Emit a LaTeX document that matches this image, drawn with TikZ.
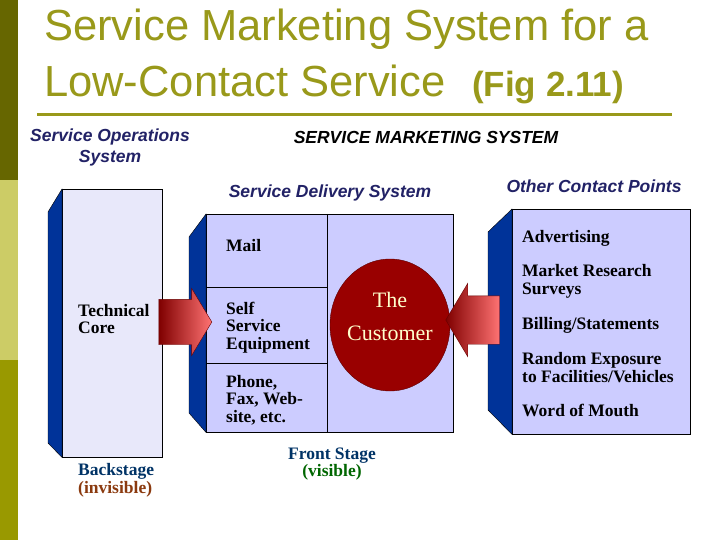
\documentclass[tikz,border=0pt]{standalone}
\usepackage{fontspec}
\setmainfont{Liberation Serif}
\setsansfont{Liberation Sans}
\usetikzlibrary{shapes.arrows,shapes.geometric}
\definecolor{olivetitle}{RGB}{153,153,26}
\definecolor{bardark}{RGB}{102,102,0}
\definecolor{barlight}{RGB}{204,204,102}
\definecolor{barmid}{RGB}{153,153,0}
\definecolor{sideblue}{RGB}{0,51,153}
\definecolor{coreface}{RGB}{232,232,250}
\definecolor{boxface}{RGB}{204,204,255}
\definecolor{headnavy}{RGB}{34,34,102}
\definecolor{stagenavy}{RGB}{0,51,102}
\definecolor{invisbrown}{RGB}{139,58,15}
\definecolor{visgreen}{RGB}{0,102,0}
\definecolor{custred}{RGB}{153,0,0}
\definecolor{custtext}{RGB}{255,255,204}

\begin{document}
\begin{tikzpicture}[x=1pt, y=-1pt,
	face/.style={draw, thin, rectangle, anchor=north west, inner sep=0},
	side/.style={draw, thin, fill=sideblue},
	heading/.style={font=\sffamily\bfseries\itshape\fontsize{17.5}{21}\selectfont, text=headnavy, inner sep=0, align=center},
	item/.style={font=\bfseries\fontsize{17.5}{17.5}\selectfont, anchor=west, inner sep=0, align=left},
	blockarrow/.style={single arrow, single arrow tip angle=118, inner xsep=0, draw=red!40!black, left color=red!50!black, right color=red!55!white}]
				\fill[white] (0,0) rectangle (720,540);
				\useasboundingbox (0,0) rectangle (720,540);
				\fill[bardark] (0,0) rectangle (18,180);
				\fill[barlight] (0,180) rectangle (18,360);
				\fill[barmid] (0,360) rectangle (18,540);
				
				\path (44,41) node[anchor=base west, inner sep=0, text=olivetitle, font=\sffamily\fontsize{43.5}{43.5}\selectfont] (title1){Service Marketing System for a}
				(44,97) node[anchor=base west, inner sep=0, text=olivetitle, font=\sffamily\fontsize{43.5}{43.5}\selectfont] (title2){Low-Contact Service}
				(472,97) node[anchor=base west, inner sep=0, text=olivetitle, font=\sffamily\bfseries\fontsize{35}{35}\selectfont] (fig){(Fig 2.11)};
				\draw[olivetitle, line width=3] (37,115) -- (672,115);
				
				\path (110,147.5) node[heading] (opsys){Service Operations\\System}
				(426,137) node[heading, text=black] (mksys){SERVICE MARKETING SYSTEM}
				(330,193) node[heading] (delsys){Service Delivery System}
				(594,186) node[heading] (other){Other Contact Points};
				
				\path (62,189) node[face, fill=coreface, minimum width=100, minimum height=268] (core){}
				(206,214) node[face, fill=boxface, minimum width=247, minimum height=218] (deliv){}
				(512,209) node[face, fill=boxface, minimum width=178, minimum height=225] (contact){};
				
				\draw[side] (core.north west) -- ++(-14,23) -- ++(0,231) -- (core.south west) -- cycle;
				\draw[side] (deliv.north west) -- ++(-17,23) -- ++(0,176) -- (deliv.south west) -- cycle;
				\draw[side] (contact.north west) -- ++(-24,23) -- ++(0,178) -- (contact.south west) -- cycle;
				\draw (327,214) -- (327,432)
				(206,287) -- (327,287)
				(206,363) -- (327,363);
				
				\path (390,325) node[ellipse, draw=custred!60!black, fill=custred, minimum width=120, minimum height=132, inner sep=0] (customer){}
				(390,316) node[align=center, inner sep=0, text=custtext, font=\fontsize{22}{33}\selectfont] (custlabel){The\\Customer};
				
				\path (78,319) node[item] (techcore){Technical\\Core}
				(78,480.5) node[item] (backstage){\textcolor{stagenavy}{Backstage}\\\textcolor{invisbrown}{(invisible)}}
				(226,246) node[item] (mail){Mail}
				(226,327.5) node[item] (selfserv){Self\\Service\\Equipment}
				(226,400) node[item] (phone){Phone,\\Fax, Web-\\site, etc.}
				(332,464) node[item, anchor=center, align=center] (frontstage){\textcolor{stagenavy}{Front Stage}\\\textcolor{visgreen}{(visible)}};
				
				\path (522,238) node[item] (advert){Advertising}
				(522,281.5) node[item] (research){Market Research\\Surveys}
				(522,325) node[item] (billing){Billing/Statements}
				(522,367.5) node[item] (random){Random Exposure\\to Facilities/Vehicles}
				(522,410) node[item] (mouth){Word of Mouth};
				
				\path (178.5,322) node[blockarrow, minimum height=53, inner ysep=22.5, single arrow head extend=11] (arrL){}
				(480,320) node[blockarrow, minimum height=54, inner ysep=24, single arrow head extend=12.5, shape border rotate=180] (arrR){};
			\end{tikzpicture}
\end{document}
